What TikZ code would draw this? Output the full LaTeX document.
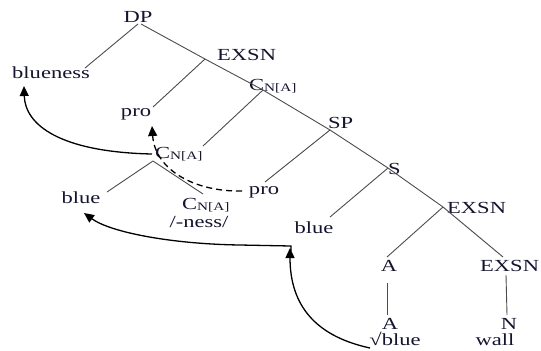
\documentclass[tikz,border=0pt]{standalone}
\usepackage{fontspec}
\setmainfont{Liberation Serif}[FakeStretch=1.33]
\usetikzlibrary{arrows.meta}
\definecolor{txt}{rgb}{0.08,0.08,0.18}
\definecolor{brc}{rgb}{0.3,0.3,0.3}
\newcommand\cnasub{C\raisebox{-1pt}{\fontsize{11.5}{11.5}\selectfont N[A]}}
\begin{document}
\begin{tikzpicture}[x=1bp,y=-1bp,
  lab/.style={anchor=base,inner sep=0pt,font=\fontsize{17}{17}\selectfont,text=txt},
  labw/.style={lab,anchor=base west},
  br/.style={draw=brc,line width=0.9bp},
  mv/.style={draw=black,line width=1.3bp,-{Triangle[length=10bp,width=9bp]}},
]
\useasboundingbox (0,0) rectangle (541,350);
% labels
\node[lab] (dp) at (138,22) {DP};
\node[lab] (blueness) at (51,78) {blueness};
\node[labw] (exsn1) at (217,60) {EXSN};
\node[lab] (pro1) at (136,116) {pro};
\node[labw] (cna1) at (249,90) {\cnasub};
\node[labw] (sp) at (328,128) {SP};
\node[labw] (cna2) at (155,158) {\cnasub};
\node[lab] (pro2) at (264,194) {pro};
\node[labw] (s) at (388,174) {S};
\node[lab] (blue1) at (81,203) {blue};
\node[labw] (cna3) at (182,209) {\cnasub};
\node[lab] (ness) at (199,227) {/-ness/};
\node[lab] (blue2) at (314,233) {blue};
\node[labw] (exsn2) at (447,213) {EXSN};
\node[lab] (a1) at (389,271) {A};
\node[labw] (exsn3) at (480,271) {EXSN};
\node[lab] (a2) at (390,329) {A};
\node[lab] (root) at (395,345) {√blue};
\node[lab] (n) at (509,329) {N};
\node[lab] (wall) at (495,345) {wall};
% branch points
\coordinate (p0) at (141,24);
\coordinate (p0l) at (138,24);
\coordinate (p1) at (205,59);
\coordinate (p2) at (263,90);
\coordinate (p3) at (330,130);
\coordinate (p4) at (388,168);
\coordinate (p5) at (443,207);
\coordinate (p6) at (503,257);
\coordinate (q) at (153,161);
% leaf ends
\coordinate (e-blueness) at (85,68);
\coordinate (e-pro1) at (153,107);
\coordinate (e-cna2) at (203,146);
\coordinate (e-pro2) at (265,182);
\coordinate (e-blue2) at (330,217);
\coordinate (e-a1) at (387,257);
\coordinate (e-blue1) at (107,192);
\coordinate (e-cna3) at (203,194);
\coordinate (a1b) at (387,283);
\coordinate (a2t) at (387,315);
\coordinate (x3b) at (506,275);
\coordinate (nt) at (507,315);
% tree
\draw[br] (p0) -- (p1) -- (p2) -- (p3) -- (p4) -- (p5) -- (p6);
\draw[br] (p0l) -- (e-blueness);
\draw[br] (p1) -- (e-pro1);
\draw[br] (p2) -- (e-cna2);
\draw[br] (p3) -- (e-pro2);
\draw[br] (p4) -- (e-blue2);
\draw[br] (p5) -- (e-a1);
\draw[br] (q) -- (e-blue1);
\draw[br] (q) -- (e-cna3);
\draw[br] (a1b) -- (a2t);
\draw[br] (x3b) -- (nt);
% movement arrows
\coordinate (m1s) at (152,154);
\coordinate (m1e) at (24,86);
\coordinate (m2s) at (242,191);
\coordinate (m2e) at (152,126);
\coordinate (m3s) at (370,348);
\coordinate (m3e) at (290,248);
\coordinate (m4s) at (291,251);
\coordinate (m4k) at (291,246);
\coordinate (m4h) at (240,245);
\coordinate (m4e) at (84,213);
\draw[mv] (m1s) .. controls (60,152) and (25,125) .. (m1e);
\draw[mv,dashed,dash pattern=on 6bp off 4bp] (m2s) .. controls (195,192) and (155,170) .. (m2e);
\draw[mv] (m3s) .. controls (310,335) and (290,300) .. (m3e);
\draw[mv] (m4s) -- (m4k) -- (m4h) .. controls (170,244) and (110,232) .. (m4e);
\end{tikzpicture}
\end{document}
